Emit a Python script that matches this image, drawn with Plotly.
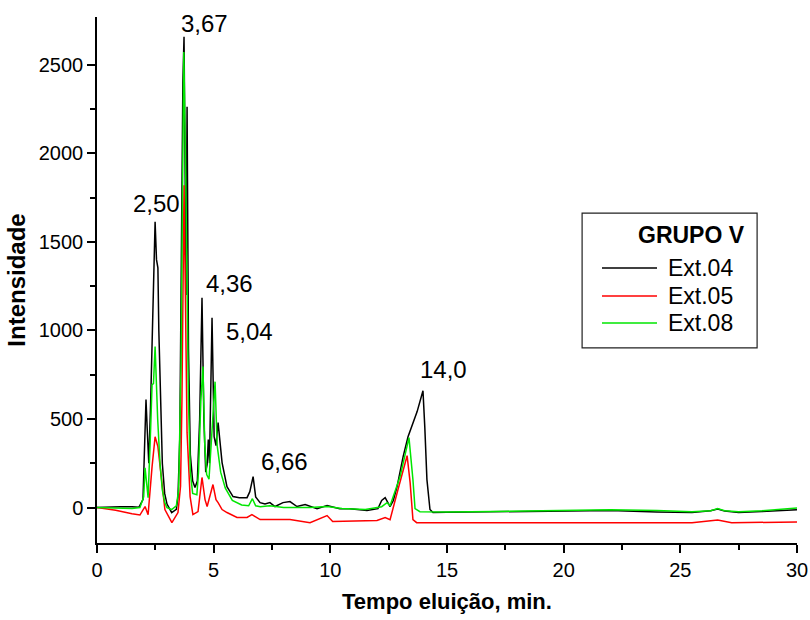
import plotly.graph_objects as go

# Chromatograms, GRUPO V: elution time (min) vs intensity
t_ext04 = [0, 0.5, 1.0, 1.5, 1.8, 1.97, 2.05, 2.1, 2.15, 2.22, 2.3, 2.38, 2.45, 2.49, 2.55, 2.58,
           2.61, 2.65, 2.72, 2.8, 2.9, 3.0, 3.2, 3.4, 3.47, 3.55, 3.62, 3.68, 3.73, 3.78, 3.82, 3.86,
           3.92, 4.0, 4.1, 4.2, 4.3, 4.4, 4.46, 4.5, 4.58, 4.66, 4.72, 4.77, 4.82, 4.88, 4.93, 5.02,
           5.1, 5.19, 5.36, 5.57, 5.83, 6.1, 6.43, 6.55, 6.69, 6.8, 6.99, 7.2, 7.41, 7.63, 7.97, 8.27,
           8.57, 8.92, 9.43, 9.86, 10.4, 10.84, 11.57, 12.04, 12.2, 12.35, 12.47, 12.56, 12.7, 12.86,
           13.12, 13.33, 13.72, 13.97, 14.05, 14.14, 14.27, 14.4, 15, 17, 20, 22, 24, 25.5, 26.3,
           26.6, 26.9, 27.5, 28.5, 30]
v_ext04 = [0, 3, 5, 4, 2, 45, 400, 610, 450, 250, 600, 1100, 1450, 1614, 1400, 1354,
           1354, 1000, 700, 250, 80, 20, -28, -10, 60, 400, 1500, 2400, 2658, 1500, 1200, 2263,
           900, 300, 150, 113, 150, 500, 1000, 1185, 500, 200, 243, 384, 250, 600, 1072, 400,
           350, 480, 254, 118, 62, 55, 56, 90, 175, 60, 28, 20, 28, 6, 28, 34,
           6, 17, -6, 11, -6, -6, -17, -6, 40, 56, 28, 6, 40, 118,
           288, 400, 542, 660, 450, 158, -11, -28, -27, -24, -20, -16, -25, -28, -18,
           -8, -20, -28, -22, -12]

t_ext05 = [0, 0.8, 1.5, 1.84, 2.06, 2.19, 2.36, 2.49, 2.61, 2.79, 2.91, 3.21, 3.47, 3.58, 3.64,
           3.73, 3.8, 3.86, 3.99, 4.11, 4.33, 4.5, 4.63, 4.72, 4.97, 5.1, 5.19, 5.36, 5.57, 6.0,
           6.43, 6.64, 6.99, 8.27, 9.13, 9.86, 10.1, 12.0, 12.35, 12.56, 12.9, 13.29, 13.42, 13.54,
           13.7, 15, 20, 25.5, 26.6, 27.2, 30]
v_ext05 = [0, -15, -35, -42, 6, -40, 231, 400, 344, 141, -11, -85, -28, 120, 600,
           1820, 1200, 423, 62, -40, -23, 170, 45, 6, 130, 45, 28, -11, -28, -56,
           -56, -40, -68, -68, -85, -45, -79, -73, -56, -68, 102, 293, 141, -68,
           -85, -85, -82, -85, -70, -85, -82]

t_ext08 = [0, 0.8, 1.5, 1.84, 2.0, 2.06, 2.19, 2.3, 2.36, 2.42, 2.49, 2.6, 2.7, 2.8, 2.9, 3.0,
           3.2, 3.4, 3.5, 3.6, 3.66, 3.72, 3.8, 3.86, 3.92, 4.0, 4.1, 4.28, 4.35, 4.45, 4.54, 4.62,
           4.7, 4.8, 4.9, 5.06, 5.15, 5.3, 5.5, 5.8, 6.2, 6.5, 6.66, 6.8, 7.0, 7.4, 8.0, 8.27, 9.13,
           9.86, 10.5, 11.5, 12.2, 12.43, 12.56, 12.99, 13.29, 13.37, 13.54, 13.63, 13.84, 15, 17,
           20, 22, 24, 25.5, 26.3, 26.6, 26.9, 27.5, 28.5, 30]
v_ext08 = [0, -3, -5, 0, 60, 225, 56, 450, 694, 700, 910, 500, 250, 100, 30, 0,
           -11, 10, 100, 800, 1800, 2573, 1900, 1350, 600, 200, 80, 73, 200, 600, 796, 350,
           186, 160, 400, 711, 350, 200, 110, 40, 15, 10, 50, 10, 5, 10, 0, 0, 0,
           6, -5, -11, 5, 28, 11, 175, 344, 395, 158, -6, -23, -25, -22,
           -15, -12, -16, -24, -18, -6, -18, -24, -18, -3]

series_names = ["Ext.04", "Ext.05", "Ext.08"]
series_colors = ["#000000", "#ff0000", "#00e600"]
legend_title = "GRUPO V"

# Retention-time labels placed beside the main peaks
peak_labels = ["3,67", "2,50", "4,36", "5,04", "6,66", "14,0"]
label_x = [4.59, 2.53, 5.68, 6.52, 8.02, 14.85]
label_y = [2731, 1716, 1267, 996, 262, 779]

FONT = "Liberation Sans, Arial, sans-serif"

fig = go.Figure()
for t, v, name, color in zip([t_ext04, t_ext05, t_ext08], [v_ext04, v_ext05, v_ext08],
                             series_names, series_colors):
    fig.add_trace(go.Scatter(x=t, y=v, mode="lines", name=name, showlegend=False,
                             line=dict(color=color, width=1.5)))

for txt, x, y in zip(peak_labels, label_x, label_y):
    fig.add_annotation(x=x, y=y, xref="x", yref="y", text=txt, showarrow=False,
                       font=dict(family=FONT, size=24, color="black"))

# Boxed key: title, then a line sample and name per series
box_x0, box_x1, box_y0, box_y1 = 0.693, 0.943, 0.371, 0.627
fig.add_shape(type="rect", xref="paper", yref="paper", x0=box_x0, x1=box_x1,
              y0=box_y0, y1=box_y1, line=dict(color="#202020", width=1.2),
              fillcolor="white", layer="above")
fig.add_annotation(x=0.77, y=0.5856, xref="paper", yref="paper", xanchor="left",
                   text="<b>" + legend_title + "</b>", showarrow=False,
                   font=dict(family=FONT, size=23, color="black"))
row_y = [0.5228, 0.4696, 0.4183]
for name, color, ry in zip(series_names, series_colors, row_y):
    fig.add_shape(type="line", xref="paper", yref="paper", x0=0.7214, x1=0.8,
                  y0=ry, y1=ry, line=dict(color=color, width=1.5), layer="above")
    fig.add_annotation(x=0.8129, y=ry, xref="paper", yref="paper", text=name,
                       showarrow=False, xanchor="left",
                       font=dict(family=FONT, size=23, color="black"))

axis_common = dict(showline=True, linecolor="black", linewidth=1.5, ticks="outside",
                   ticklen=8, tickwidth=1.5, tickcolor="black", showgrid=False,
                   zeroline=False, mirror=False, automargin=False,
                   tickfont=dict(family=FONT, size=20, color="black"))

fig.update_xaxes(range=[0, 30], tickvals=[0, 5, 10, 15, 20, 25, 30],
                 minor=dict(tickvals=[2.5, 7.5, 12.5, 17.5, 22.5, 27.5], ticks="outside",
                            ticklen=5, tickwidth=1.5, tickcolor="black"),
                 title=dict(text="<b>Tempo eluição, min.</b>",
                            font=dict(family=FONT, size=22, color="black"), standoff=14),
                 **axis_common)
fig.update_yaxes(range=[-200, 2770], tickvals=[0, 500, 1000, 1500, 2000, 2500],
                 minor=dict(tickvals=[-250, 250, 750, 1250, 1750, 2250], ticks="outside",
                            ticklen=5, tickwidth=1.5, tickcolor="black"),
                 title=dict(text="<b>Intensidade</b>",
                            font=dict(family=FONT, size=24, color="black"), standoff=6),
                 **axis_common)

fig.update_layout(
    width=810, height=620,
    margin=dict(l=97, r=13, t=17, b=77),
    plot_bgcolor="white", paper_bgcolor="white",
    showlegend=False,
    font=dict(family=FONT),
)

fig.write_html("out.html")
